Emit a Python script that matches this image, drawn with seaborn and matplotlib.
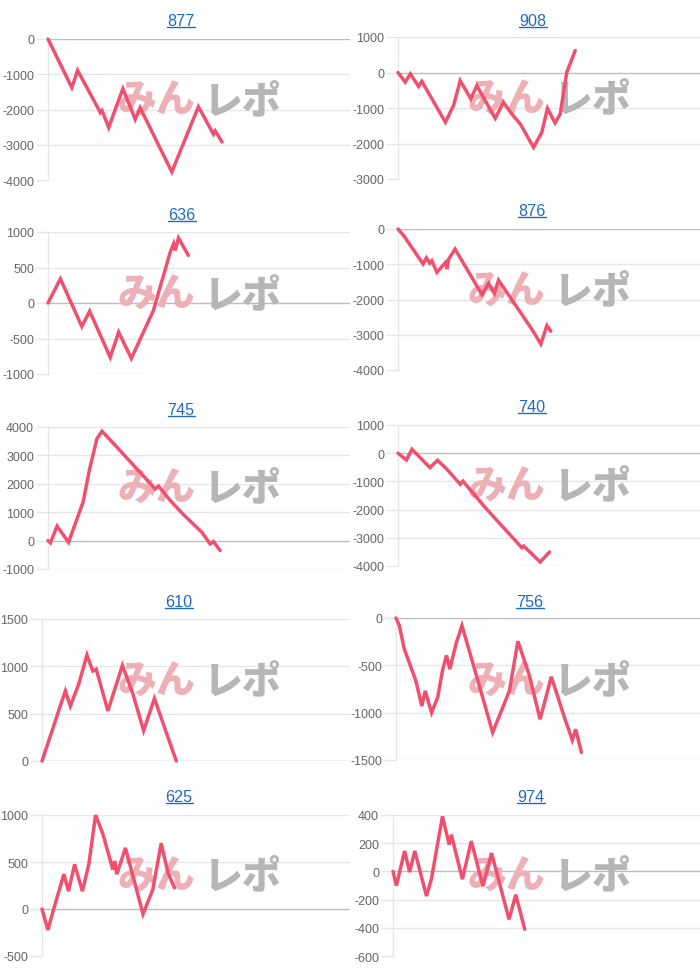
import numpy as np
import pandas as pd
import matplotlib
matplotlib.use("Agg")
import matplotlib.pyplot as plt
import seaborn as sns
from matplotlib.lines import Line2D

sns.set_theme(style="white")
plt.rcParams["font.family"] = ["Liberation Sans", "Noto Sans CJK JP", "DejaVu Sans"]
plt.rcParams["axes.unicode_minus"] = False

# ---------------- data (x = position along the day, 0-100 of axis width) ----------------
titles = ["877", "908", "636", "876", "745", "740", "610", "756", "625", "974"]

x_877 = [0, 7.9, 9.8, 16.8, 17.3, 17.9, 20.1, 24.8, 28.9, 30.5, 41.0, 49.8, 54.8, 55.4, 57.6]
y_877 = [0, -1380, -890, -2000, -2090, -2030, -2510, -1410, -2280, -1950, -3770, -1920, -2700, -2610, -2920]

x_908 = [0, 2.4, 4.1, 6.8, 7.9, 15.7, 18.4, 20.6, 24.1, 26.1, 32.2, 34.9, 37.7, 40.5, 44.9, 47.6, 49.5, 52.0, 53.7, 55.9, 58.7]
y_908 = [0, -270, -40, -390, -250, -1400, -930, -230, -740, -370, -1290, -840, -1170, -1450, -2110, -1690, -1010, -1420, -1170, 10, 620]

x_636 = [0, 4.1, 11.2, 13.8, 20.6, 23.4, 27.6, 34.9, 40.5, 41.6, 42.1, 43.2, 46.5]
y_636 = [0, 340, -330, -115, -765, -410, -780, -105, 720, 835, 740, 915, 670]

x_876 = [0, 1.9, 8.3, 9.4, 10.5, 11.2, 12.9, 15.7, 16.2, 16.8, 18.9, 27.8, 30.0, 31.9, 33.3, 44.3, 47.3, 49.3, 50.6]
y_876 = [0, -190, -990, -820, -970, -900, -1230, -950, -1135, -850, -570, -1860, -1540, -1825, -1450, -2840, -3260, -2740, -2900]

x_745 = [0, 0.8, 3.0, 6.8, 11.6, 13.8, 16.2, 17.9, 22.3, 35.5, 36.6, 40.5, 44.9, 51.0, 53.7, 54.8, 57.0]
y_745 = [0, -80, 510, -60, 1350, 2530, 3590, 3850, 3350, 1820, 1920, 1410, 910, 290, -120, -35, -350]

x_740 = [0, 2.8, 4.6, 10.6, 13.1, 16.2, 20.6, 21.5, 28.9, 41.0, 41.6, 47.1, 50.2]
y_740 = [0, -240, 140, -510, -250, -570, -1100, -990, -1930, -3350, -3290, -3860, -3500]

x_610 = [0, 3.6, 5.6, 7.6, 9.2, 11.9, 14.6, 16.5, 17.6, 21.4, 26.1, 29.5, 33.0, 36.5, 40.9, 43.6]
y_610 = [0, 350, 550, 740, 580, 810, 1120, 950, 970, 530, 1010, 710, 320, 660, 250, 0]

x_756 = [0, 1.1, 2.7, 6.5, 8.5, 9.6, 11.7, 13.7, 15.3, 16.6, 17.7, 19.9, 21.7, 26.3, 31.8, 37.3, 40.1, 43.9, 47.4, 51.1, 55.4, 58.0, 59.1, 61.0]
y_756 = [0, -80, -325, -660, -930, -770, -1000, -840, -555, -395, -540, -255, -80, -590, -1210, -770, -245, -610, -1070, -620, -1050, -1290, -1175, -1420]

x_625 = [0, 1.9, 3.8, 7.1, 8.6, 10.6, 13.1, 15.2, 17.4, 19.8, 23.0, 23.6, 24.3, 27.1, 32.8, 36.0, 38.7, 40.9, 43.0]
y_625 = [0, -223, 0, 370, 190, 475, 190, 475, 1000, 795, 420, 510, 370, 650, -55, 210, 700, 385, 225]

x_974 = [0, 1.1, 3.8, 5.4, 7.1, 10.9, 12.5, 16.1, 18.3, 19.0, 22.6, 25.5, 29.3, 32.1, 37.8, 40.0, 42.9]
y_974 = [0, -100, 145, -5, 145, -175, -55, 390, 190, 260, -55, 215, -105, 130, -340, -165, -410]

series_x = [x_877, x_908, x_636, x_876, x_745, x_740, x_610, x_756, x_625, x_974]
series_y = [y_877, y_908, y_636, y_876, y_745, y_740, y_610, y_756, y_625, y_974]

y_ticks = [
    [-4000, -3000, -2000, -1000, 0],
    [-3000, -2000, -1000, 0, 1000],
    [-1000, -500, 0, 500, 1000],
    [-4000, -3000, -2000, -1000, 0],
    [-1000, 0, 1000, 2000, 3000, 4000],
    [-4000, -3000, -2000, -1000, 0, 1000],
    [0, 500, 1000, 1500],
    [-1500, -1000, -500, 0],
    [-500, 0, 500, 1000],
    [-600, -400, -200, 0, 200, 400],
]

# ---------------- layout (pixels) ----------------
W, H = 700, 970
# left, right, top, bottom of each plot area
rects = [
    (48, 350, 40, 181), (398, 700, 38, 180),
    (48, 350, 233, 375), (398, 700, 230, 371),
    (48, 350, 428, 570), (398, 700, 426, 567),
    (42, 350, 620, 762), (396, 700, 619, 761),
    (42, 350, 816, 957), (393, 700, 816, 957),
]
# title centre x, baseline y
title_pos = [
    (181, 26), (533, 26), (182, 220), (532, 216), (181, 415),
    (532, 412), (179, 607), (530, 607), (179, 802), (531, 802),
]
# watermark centre y
wm_y = [101, 100, 295, 292, 489, 487, 682, 682, 877, 877]

LINE = "#f0506e"
GRID = "#e6e6e6"
ZERO = "#bdbdbd"
LABEL = "#666666"
LINK = "#1f6bbd"

fig = plt.figure(figsize=(W / 100, H / 100), dpi=100)
fig.patch.set_facecolor("white")

title_texts = []
for i in range(10):
    l, r, t, b = rects[i]
    ax = fig.add_axes([l / W, 1 - b / H, (r - l) / W, (b - t) / H])
    ax.patch.set_alpha(0)
    df = pd.DataFrame({"x": series_x[i], "y": series_y[i]})
    sns.lineplot(data=df, x="x", y="y", ax=ax, color=LINE, linewidth=2.5,
                 sort=False, estimator=None, zorder=3)
    ln = ax.lines[-1]
    ln.set_clip_on(False)
    ln.set_solid_joinstyle("miter")
    ticks = y_ticks[i]
    ax.set_xlim(0, 100)
    ax.set_ylim(ticks[0], ticks[-1])
    ax.set_yticks(ticks)
    ax.set_yticklabels([str(v) for v in ticks])
    ax.set_xticks([])
    ax.set_xlabel("")
    ax.set_ylabel("")
    ax.grid(axis="y", color=GRID, linewidth=1)
    ax.set_axisbelow(True)
    ax.tick_params(axis="y", length=9, width=1, color=GRID, pad=1.0,
                   labelsize=9.0, labelcolor=LABEL, left=True)
    for tk, v in zip(ax.yaxis.get_major_ticks(), ticks):
        if v == 0:
            tk.gridline.set_color(ZERO)
            tk.tick1line.set_color(ZERO)
    for s in ["top", "right", "bottom"]:
        ax.spines[s].set_visible(False)
    ax.spines["left"].set_color(GRID)
    ax.spines["left"].set_linewidth(1)

    # watermark (behind the line)
    off = 0 if l < 300 else 350
    ax.text((156 + off) / W, 1 - wm_y[i] / H, "みん", transform=fig.transFigure,
            ha="center", va="center", fontsize=28, fontweight=900,
            family=["Noto Sans CJK JP"], color="#ecb0b6", zorder=1, clip_on=False)
    ax.text((242 + off) / W, 1 - wm_y[i] / H, "レポ", transform=fig.transFigure,
            ha="center", va="center", fontsize=28, fontweight=900,
            family=["Noto Sans CJK JP"], color="#b6b6b6", zorder=1, clip_on=False)

    cx, by = title_pos[i]
    tt = fig.text(cx / W, 1 - by / H, titles[i], ha="center", va="baseline",
                  fontsize=11.6, color=LINK)
    title_texts.append((tt, by))

fig.canvas.draw()
renderer = fig.canvas.get_renderer()
for tt, by in title_texts:
    bb = tt.get_window_extent(renderer)
    yy = 1 - (by + 2) / H
    fig.add_artist(Line2D([bb.x0 / W, bb.x1 / W], [yy, yy], transform=fig.transFigure,
                          color=LINK, linewidth=1))

fig.savefig("out.png", dpi=100, facecolor="white")
